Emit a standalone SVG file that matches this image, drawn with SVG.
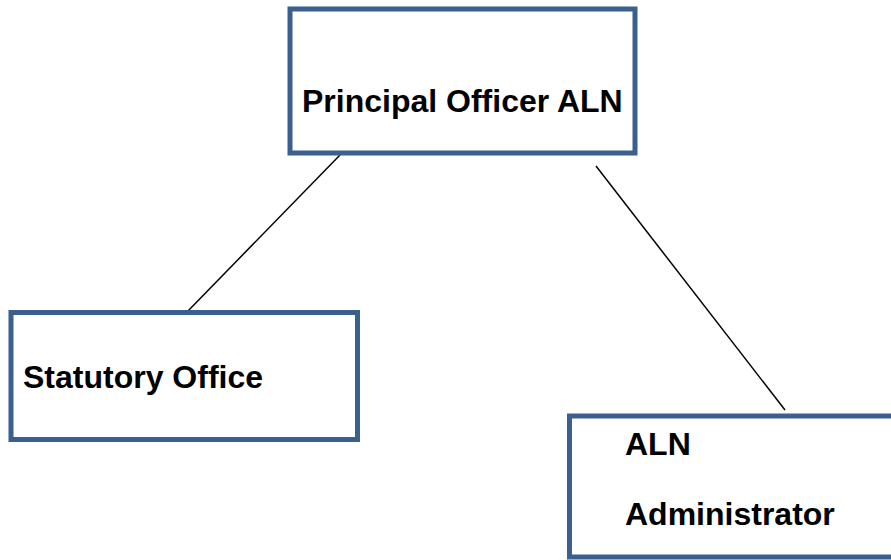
<svg xmlns="http://www.w3.org/2000/svg" width="891" height="560" viewBox="0 0 891 560">
<style>
.box{fill:#ffffff;stroke:#3b5f8e;stroke-width:5}
.t{font-family:"Liberation Sans",Arial,sans-serif;font-weight:bold;font-size:32px;fill:#000000}
.c{stroke:#000000;stroke-width:1.5;fill:none}
</style>
<rect width="891" height="560" fill="#ffffff"/>
<g id="connectors">
<line class="c" x1="340" y1="155" x2="187" y2="312"/>
<line class="c" x1="596" y1="166" x2="785" y2="410"/>
</g>
<g id="principal">
<rect class="box" x="290" y="9" width="345" height="144"/>
<text class="t" x="302" y="112">Principal Officer ALN</text>
</g>
<g id="statutory">
<rect class="box" x="11" y="312.5" width="346.5" height="127"/>
<text class="t" x="23" y="388">Statutory Office</text>
</g>
<g id="administrator">
<rect class="box" x="569.5" y="416" width="345" height="141"/>
<text class="t" x="625" y="455">ALN</text>
<text class="t" x="625" y="525">Administrator</text>
</g>
</svg>
